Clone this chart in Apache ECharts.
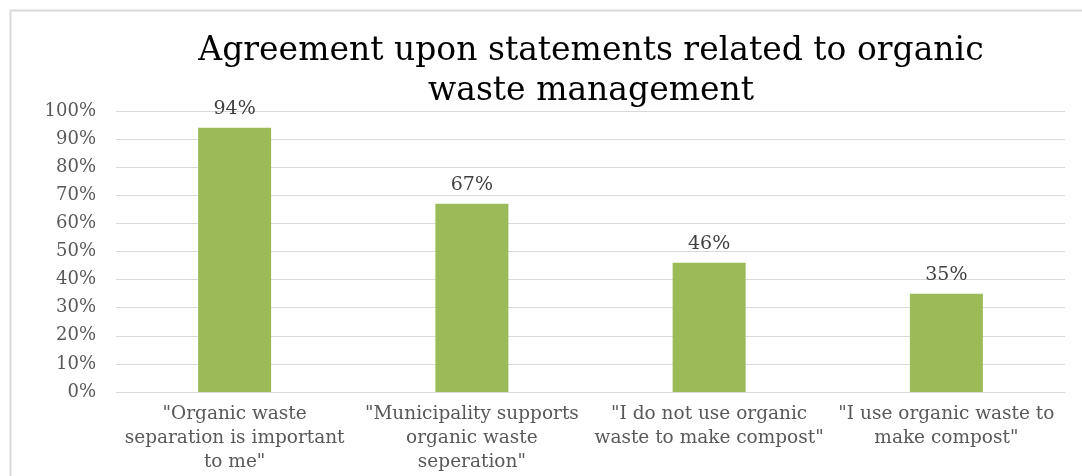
<!DOCTYPE html>
<html>
<head>
<meta charset="utf-8">
<script src="https://cdn.jsdelivr.net/npm/echarts@6/dist/echarts.min.js"></script>
<style>
html,body{margin:0;padding:0;background:#fff;}
#chart{width:1082px;height:476px;}
</style>
</head>
<body>
<div id="chart"></div>
<script>
// Survey statements (category axis) and share of respondents agreeing (%)
const categories = [
  '"Organic waste\nseparation is important\nto me"',
  '"Municipality supports\norganic waste\nseperation"',
  '"I do not use organic\nwaste to make compost"',
  '"I use organic waste to\nmake compost"'
];
const agreement = [94, 67, 46, 35];
const titleText = 'Agreement upon statements related to organic\nwaste management';

const FONT = '"DejaVu Serif", "Liberation Serif", serif';
const chart = echarts.init(document.getElementById('chart'), null, { renderer: 'canvas' });

chart.setOption({
  backgroundColor: '#ffffff',
  animation: false,
  graphic: [{
    type: 'rect',
    shape: { x: 10.5, y: 10.5, width: 1200, height: 600 },
    style: { fill: 'none', stroke: '#d9d9d9', lineWidth: 2 },
    silent: true
  }],
  title: {
    text: titleText,
    left: 586,
    textAlign: 'center',
    top: 26,
    textStyle: {
      fontFamily: FONT,
      fontSize: 33,
      fontWeight: 'normal',
      color: '#000000',
      lineHeight: 40
    }
  },
  grid: { left: 116, right: 17, top: 111, bottom: 84, containLabel: false },
  xAxis: {
    type: 'category',
    data: categories,
    axisLine: { show: true, lineStyle: { color: '#d9d9d9', width: 1 } },
    axisTick: { show: false },
    axisLabel: {
      interval: 0,
      margin: 10,
      fontFamily: FONT,
      fontSize: 18.5,
      lineHeight: 24,
      color: '#595959'
    }
  },
  yAxis: {
    type: 'value',
    min: 0,
    max: 100,
    interval: 10,
    axisLine: { show: false },
    axisTick: { show: false },
    splitLine: { lineStyle: { color: '#d9d9d9', width: 1 } },
    axisLabel: {
      formatter: '{value}%',
      margin: 20,
      fontFamily: FONT,
      fontSize: 18,
      color: '#595959'
    }
  },
  series: [{
    type: 'bar',
    data: agreement,
    barWidth: 73,
    itemStyle: { color: '#9bbb59' },
    label: {
      show: true,
      position: 'top',
      distance: 9,
      formatter: '{c}%',
      fontFamily: FONT,
      fontSize: 19,
      color: '#404040'
    }
  }]
});
</script>
</body>
</html>
